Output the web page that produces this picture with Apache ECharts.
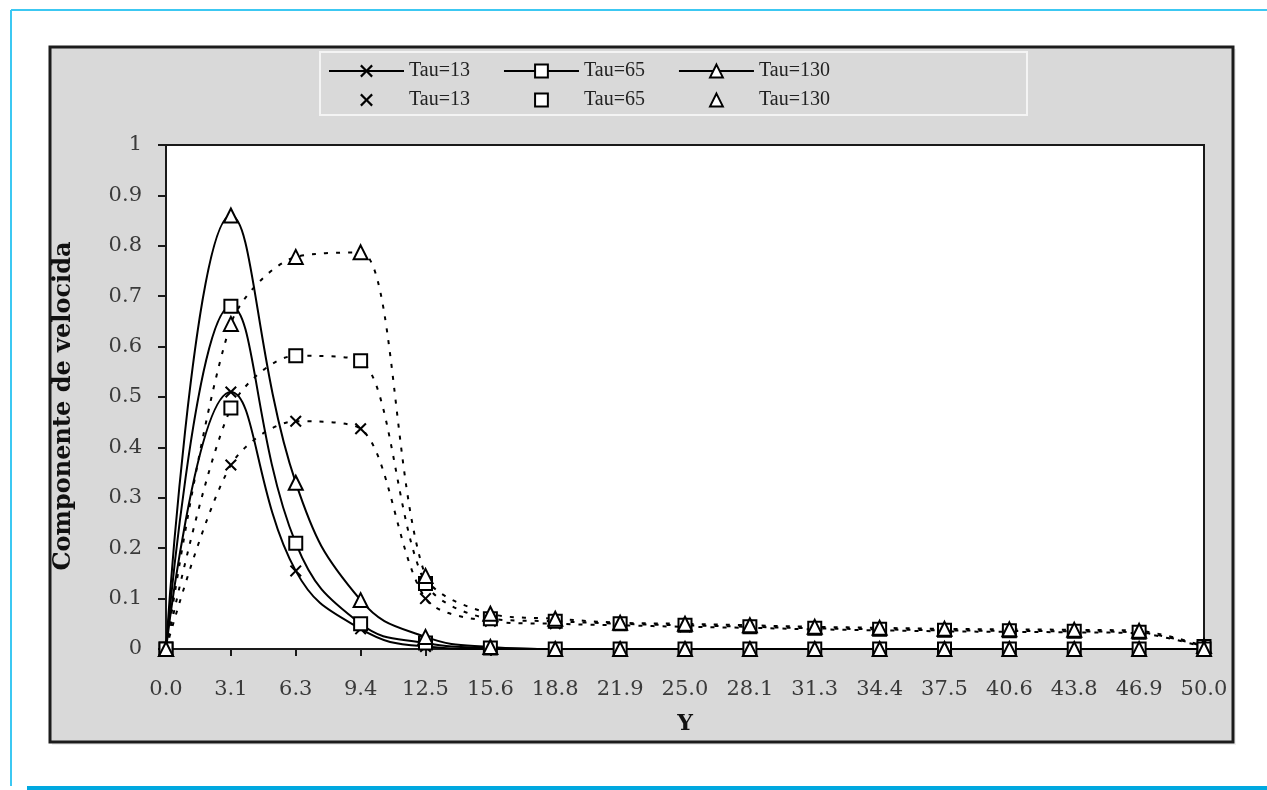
<!DOCTYPE html>
<html>
<head>
<meta charset="utf-8">
<script src="https://cdn.jsdelivr.net/npm/echarts@6/dist/echarts.min.js"></script>
<style>
  html, body { margin: 0; padding: 0; background: #fff; }
  #chart { width: 1267px; height: 790px; }
</style>
</head>
<body>
<div id="chart"></div>
<script>
// Positions along Y where the profiles are sampled
const yPositions = [0, 3.125, 6.25, 9.375, 12.5, 15.625, 18.75, 21.875, 25, 28.125,
                    31.25, 34.375, 37.5, 40.625, 43.75, 46.875, 50];

// Continuous profiles (solid lines)
const curveTau13  = [0, 0.51, 0.155, 0.04, 0.005, 0, 0, 0, 0, 0, 0, 0, 0, 0, 0, 0, 0];
const curveTau65  = [0, 0.68, 0.21, 0.05, 0.012, 0.002, 0, 0, 0, 0, 0, 0, 0, 0, 0, 0, 0];
const curveTau130 = [0, 0.86, 0.33, 0.097, 0.024, 0.004, 0, 0, 0, 0, 0, 0, 0, 0, 0, 0, 0];

// Point profiles (dotted lines)
const pointsTau13  = [0, 0.365, 0.452, 0.437, 0.10, 0.055, 0.05, 0.047, 0.044, 0.042,
                      0.039, 0.037, 0.035, 0.034, 0.033, 0.031, 0.004];
const pointsTau65  = [0, 0.478, 0.582, 0.572, 0.13, 0.06, 0.055, 0.05, 0.047, 0.044,
                      0.041, 0.039, 0.037, 0.036, 0.035, 0.033, 0.005];
const pointsTau130 = [0, 0.645, 0.778, 0.787, 0.145, 0.07, 0.06, 0.052, 0.05, 0.047,
                      0.044, 0.042, 0.04, 0.039, 0.038, 0.036, 0.006];

const legendLabels = ['Tau=13', 'Tau=65', 'Tau=130'];
const yAxisTitle = 'Componente de velocida';
const xAxisTitle = 'Y';

const crossSymbol = 'path://M0,1.2L1.2,0L5,3.8L8.8,0L10,1.2L6.2,5L10,8.8L8.8,10L5,6.2L1.2,10L0,8.8L3.8,5Z';
const symbols = [crossSymbol, 'emptyRect', 'emptyTriangle'];
const symbolSizes = [12, 13, 14];

const pairs = arr => arr.map((v, i) => [yPositions[i], v]);

const curveSets = [curveTau13, curveTau65, curveTau130];
const pointSets = [pointsTau13, pointsTau65, pointsTau130];

const curveNames = legendLabels.map(l => l + ' | curva');
const pointNames = legendLabels.map(l => l + ' | pontos');

const series = [];
curveSets.forEach((d, k) => {
  series.push({
    name: curveNames[k], type: 'line', data: pairs(d), smooth: 0.45,
    symbol: symbols[k], symbolSize: symbolSizes[k],
    lineStyle: { color: '#000', width: 2 },
    itemStyle: { color: '#000', borderWidth: 2 },
    z: 3
  });
});
pointSets.forEach((d, k) => {
  series.push({
    name: pointNames[k], type: 'line', data: pairs(d), smooth: 0.3,
    symbol: symbols[k], symbolSize: symbolSizes[k],
    lineStyle: { color: '#000', width: 2, type: [4, 8] },
    itemStyle: { color: '#000', borderWidth: 2 },
    z: 2
  });
});

const legendText = {
  fontFamily: 'Liberation Serif', fontSize: 20, color: '#222', lineHeight: 20
};
const stripName = n => n.split(' | ')[0];

const chart = echarts.init(document.getElementById('chart'), null, { renderer: 'canvas' });
chart.setOption({
  backgroundColor: '#fff',
  animation: false,
  graphic: [
    // page frame
    { type: 'line', z: -20, shape: { x1: 11, y1: 10, x2: 1267, y2: 10 }, style: { stroke: '#3cc8f2', lineWidth: 2 } },
    { type: 'line', z: -20, shape: { x1: 11, y1: 10, x2: 11, y2: 786 }, style: { stroke: '#3cc8f2', lineWidth: 2 } },
    { type: 'line', z: -20, shape: { x1: 27, y1: 788, x2: 1267, y2: 788 }, style: { stroke: '#00a8e0', lineWidth: 4 } },
    // grey chart panel
    { type: 'rect', z: -15, shape: { x: 52, y: 49, width: 1184, height: 696 }, style: { fill: '#eeeeee' } },
    { type: 'rect', z: -10, shape: { x: 50, y: 47, width: 1183, height: 695 },
      style: { fill: '#d9d9d9', stroke: '#1c1c1c', lineWidth: 3 } },
    // legend box
    { type: 'rect', z: -5, shape: { x: 320, y: 52, width: 707, height: 63 },
      style: { fill: '#d9d9d9', stroke: '#f4f4f4', lineWidth: 2 } }
  ],
  legend: [
    {
      data: curveNames, left: 328, top: 61, orient: 'horizontal', padding: 0,
      itemWidth: 75, itemHeight: 16, itemGap: 33, selectedMode: false,
      formatter: stripName, textStyle: legendText
    },
    {
      data: pointNames, left: 328, top: 90, orient: 'horizontal', padding: 0,
      itemWidth: 75, itemHeight: 16, itemGap: 33, selectedMode: false,
      lineStyle: { opacity: 0 },
      formatter: stripName, textStyle: legendText
    }
  ],
  grid: {
    left: 166, top: 145, right: 63, bottom: 141,
    show: true, backgroundColor: '#fff', borderColor: '#1a1a1a', borderWidth: 2
  },
  xAxis: {
    type: 'value', min: 0, max: 50, interval: 3.125,
    name: xAxisTitle, nameLocation: 'middle', nameGap: 64,
    nameTextStyle: { fontFamily: 'DejaVu Serif', fontWeight: 'bold', fontSize: 22, color: '#111' },
    axisLine: { lineStyle: { color: '#1a1a1a', width: 2 } },
    axisTick: { length: 7, lineStyle: { color: '#1a1a1a', width: 2 } },
    axisLabel: {
      margin: 30, fontFamily: 'DejaVu Serif', fontSize: 21, color: '#3a3a3a',
      formatter: v => v.toFixed(1), showMaxLabel: true, showMinLabel: true
    },
    splitLine: { show: false }
  },
  yAxis: {
    type: 'value', min: 0, max: 1, interval: 0.1,
    name: yAxisTitle, nameLocation: 'middle', nameGap: 90,
    nameTextStyle: { fontFamily: 'DejaVu Serif', fontWeight: 'bold', fontSize: 24, color: '#111', padding: [0, 18, 0, 0] },
    axisLine: { show: true, lineStyle: { color: '#1a1a1a', width: 2 } },
    axisTick: { show: true, length: 8, lineStyle: { color: '#1a1a1a', width: 2 } },
    axisLabel: { margin: 24, fontFamily: 'DejaVu Serif', fontSize: 21, color: '#3a3a3a' },
    splitLine: { show: false }
  },
  series: series
});
</script>
</body>
</html>
